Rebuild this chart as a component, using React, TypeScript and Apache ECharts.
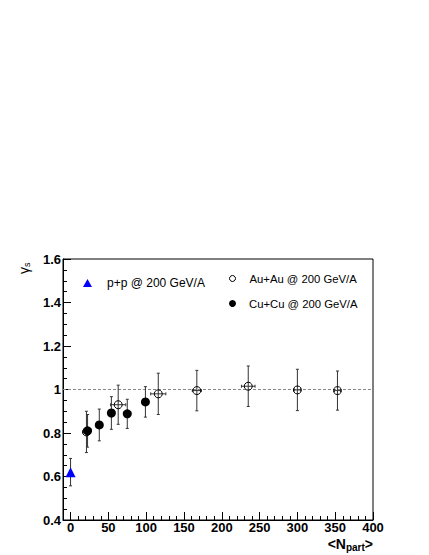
import React, { useEffect, useRef } from "react";
import * as echarts from "echarts";

// ---- data ----
const ppNpart = [0];
const ppGamma = [0.62];
const ppErr = [0.063];

const auNpart = [21, 63, 116, 167, 235, 300, 353];
const auGamma = [0.805, 0.93, 0.98, 0.995, 1.015, 0.998, 0.995];
const auErr = [0.095, 0.09, 0.095, 0.093, 0.093, 0.095, 0.09];
const auXErr = [4, 10, 10, 6, 9, 4, 4];

const cuNpart = [22.5, 38, 54, 75, 99];
const cuGamma = [0.81, 0.837, 0.892, 0.888, 0.943];
const cuErr = [0.075, 0.073, 0.075, 0.067, 0.07];

const xMajorTicks = [0, 50, 100, 150, 200, 250, 300, 350, 400];
const xMinorTicks = [0, 10, 20, 30, 40, 50, 60, 70, 80, 90, 100, 110, 120, 130, 140, 150, 160, 170, 180, 190, 200, 210, 220, 230, 240, 250, 260, 270, 280, 290, 300, 310, 320, 330, 340, 350, 360, 370, 380, 390, 400];
const refLine = [[-10, 1], [400, 1]];

const PP = "p+p @ 200 GeV/A";
const AU = "Au+Au @ 200 GeV/A";
const CU = "Cu+Cu @ 200 GeV/A";
const FONT = "'Liberation Sans', Arial, Helvetica, sans-serif";

function errData(xs: number[], ys: number[], es: number[], xe?: number[]) {
  return xs.map((x, i) => [x, ys[i], es[i], xe ? xe[i] : 0]);
}

function errorBarRender(params: any, api: any) {
  const x = api.value(0);
  const y = api.value(1);
  const ey = api.value(2);
  const ex = api.value(3);
  const top = api.coord([x, y + ey]);
  const bot = api.coord([x, y - ey]);
  const style = { stroke: "#333", lineWidth: 1 };
  const children: any[] = [
    { type: "line", shape: { x1: top[0], y1: top[1], x2: bot[0], y2: bot[1] }, style },
    { type: "line", shape: { x1: top[0] - 1.5, y1: top[1], x2: top[0] + 1.5, y2: top[1] }, style },
    { type: "line", shape: { x1: bot[0] - 1.5, y1: bot[1], x2: bot[0] + 1.5, y2: bot[1] }, style },
  ];
  if (ex > 0) {
    const l = api.coord([x - ex, y]);
    const r = api.coord([x + ex, y]);
    children.push(
      { type: "line", shape: { x1: l[0], y1: l[1], x2: r[0], y2: r[1] }, style },
      { type: "line", shape: { x1: l[0], y1: l[1] - 1.5, x2: l[0], y2: l[1] + 1.5 }, style },
      { type: "line", shape: { x1: r[0], y1: r[1] - 1.5, x2: r[0], y2: r[1] + 1.5 }, style }
    );
  }
  return { type: "group", children };
}

export default function App() {
  const ref = useRef<HTMLDivElement>(null);
  useEffect(() => {
    if (!ref.current) return;
    const chart = echarts.init(ref.current, undefined, { renderer: "svg" });
    const legendCommon = {
      orient: "horizontal",
      padding: 0,
      selectedMode: false,
    };
    chart.setOption({
      animation: false,
      backgroundColor: "#fff",
      grid: {
        left: 63,
        top: 259,
        width: 310,
        height: 261,
        show: true,
        borderColor: "#000",
        borderWidth: 1,
        backgroundColor: "transparent",
      },
      xAxis: [
        {
          type: "value",
          min: -10,
          max: 400,
          position: "bottom",
          axisLine: { show: true, onZero: false, lineStyle: { color: "#000" } },
          splitLine: { show: false },
          axisTick: { show: true, inside: true, length: 8, customValues: xMajorTicks, lineStyle: { color: "#000" } },
          axisLabel: {
            customValues: xMajorTicks,
            color: "#000",
            fontSize: 13,
            fontWeight: "bold",
            fontFamily: FONT,
            margin: 1,
          },
        },
        {
          type: "value",
          min: -10,
          max: 400,
          position: "bottom",
          axisLine: { show: false, onZero: false },
          splitLine: { show: false },
          axisTick: { show: true, inside: true, length: 4, customValues: xMinorTicks, lineStyle: { color: "#000" } },
          axisLabel: { show: false },
        },
      ],
      yAxis: {
        type: "value",
        min: 0.4,
        max: 1.6,
        interval: 0.2,
        axisLine: { show: true, onZero: false, lineStyle: { color: "#000" } },
        splitLine: { show: false },
        axisTick: { show: true, inside: true, length: 8, lineStyle: { color: "#000" } },
        minorTick: { show: true, splitNumber: 4, length: 4, lineStyle: { color: "#000" } },
        axisLabel: {
          color: "#000",
          fontSize: 13,
          fontWeight: "bold",
          fontFamily: FONT,
          margin: 2,
        },
      },
      legend: [
        {
          ...legendCommon,
          data: [PP],
          left: 83,
          top: 277,
          itemWidth: 9,
          itemHeight: 8,
          textStyle: { fontSize: 12, color: "#000", fontFamily: FONT, padding: [0, 0, 0, 10] },
        },
        {
          ...legendCommon,
          data: [AU],
          left: 229,
          top: 273,
          itemWidth: 6,
          itemHeight: 6,
          itemStyle: { borderWidth: 1 },
          textStyle: { fontSize: 11.3, color: "#000", fontFamily: FONT, padding: [0, 0, 0, 9] },
        },
        {
          ...legendCommon,
          data: [CU],
          left: 229,
          top: 298,
          itemWidth: 7,
          itemHeight: 7,
          textStyle: { fontSize: 11.3, color: "#000", fontFamily: FONT, padding: [0, 0, 0, 8] },
        },
      ],
      graphic: [
        {
          type: "text",
          x: 16,
          y: 274,
          rotation: Math.PI / 2,
          style: {
            text: "{g|γ}{s|s}",
            fill: "#000",
            rich: {
              g: { fontSize: 14, fontFamily: FONT, fill: "#000" },
              s: { fontSize: 9, fontFamily: FONT, fill: "#000", padding: [6, 0, 0, 0] },
            },
          },
        },
        {
          type: "text",
          right: 56,
          top: 537,
          style: {
            text: "<N{sub|part}>",
            fill: "#000",
            font: `bold 14px ${FONT}`,
            rich: {
              sub: { fontSize: 10, fontWeight: "bold", fontFamily: FONT, fill: "#000", padding: [6, 0, 0, 0] },
            },
          },
        },
      ],
      series: [
        {
          name: "ref",
          type: "line",
          data: refLine,
          symbol: "none",
          lineStyle: { color: "#888", width: 1, type: [3, 2] },
          silent: true,
          z: 1,
        },
        { name: "ppErr", type: "custom", renderItem: errorBarRender, data: errData(ppNpart, ppGamma, ppErr), z: 2 },
        { name: "auErr", type: "custom", renderItem: errorBarRender, data: errData(auNpart, auGamma, auErr, auXErr), z: 2 },
        { name: "cuErr", type: "custom", renderItem: errorBarRender, data: errData(cuNpart, cuGamma, cuErr), z: 2 },
        {
          name: PP,
          type: "scatter",
          symbol: "triangle",
          symbolSize: 10,
          itemStyle: { color: "#0000ff", opacity: 1 },
          data: ppNpart.map((x, i) => [x, ppGamma[i]]),
          z: 3,
        },
        {
          name: AU,
          type: "scatter",
          symbol: "circle",
          symbolSize: 8,
          itemStyle: { color: "rgba(255,255,255,0)", borderColor: "#000", borderWidth: 1, opacity: 1 },
          data: auNpart.map((x, i) => [x, auGamma[i]]),
          z: 3,
        },
        {
          name: CU,
          type: "scatter",
          symbol: "circle",
          symbolSize: 9,
          itemStyle: { color: "#000", opacity: 1 },
          data: cuNpart.map((x, i) => [x, cuGamma[i]]),
          z: 4,
        },
      ],
    });
    return () => chart.dispose();
  }, []);
  return <div ref={ref} style={{ width: 429, height: 555, position: "absolute", left: 0, top: 0 }} />;
}
